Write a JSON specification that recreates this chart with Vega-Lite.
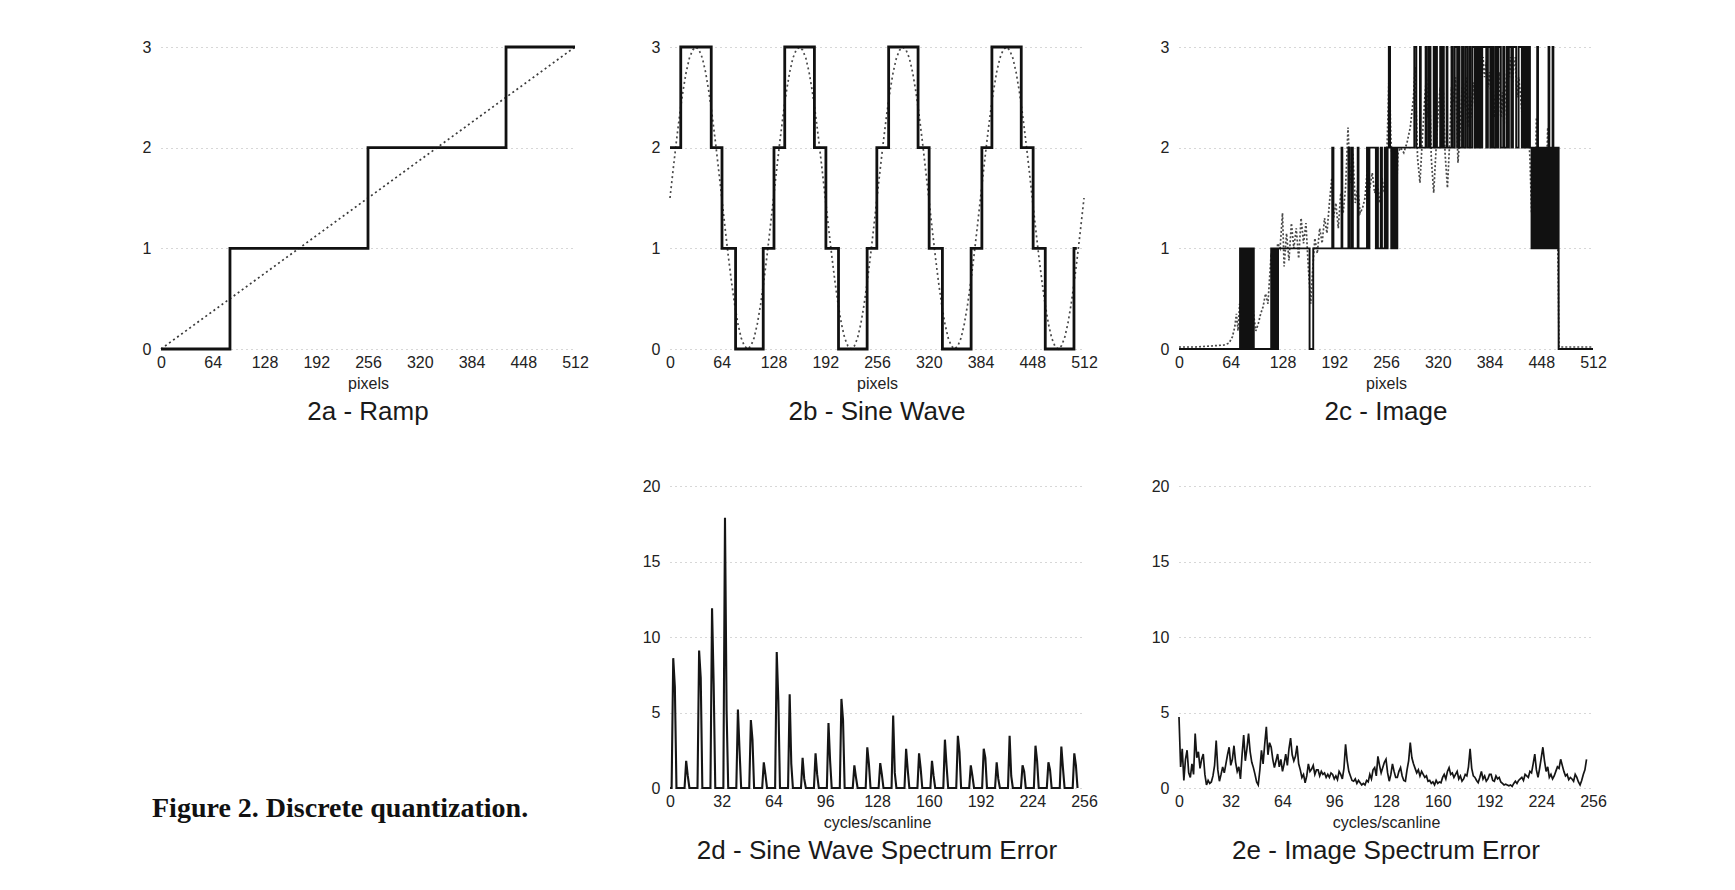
{
  "$schema": "https://vega.github.io/schema/vega-lite/v6.json",
  "background": "white",
  "padding": {"left": 142, "top": 39, "right": 5, "bottom": 5},
  "config": {
    "font": "Liberation Sans",
    "view": {"stroke": null},
    "axis": {
      "domain": false,
      "ticks": false,
      "grid": false,
      "labelFont": "Liberation Sans",
      "labelFontSize": 16,
      "labelColor": "#222222",
      "labelOverlap": false,
      "labelFlush": false,
      "titleFont": "Liberation Sans",
      "titleFontSize": 16,
      "titleFontWeight": "normal",
      "titleColor": "#222222"
    },
    "axisX": {"labelPadding": 5, "titlePadding": 5},
    "axisY": {
      "grid": true,
      "gridColor": "#8c8c8c",
      "gridDash": [1, 4],
      "gridOpacity": 0.7,
      "labelPadding": 10
    },
    "title": {
      "orient": "bottom",
      "anchor": "middle",
      "font": "Liberation Sans",
      "fontSize": 26,
      "fontWeight": "normal",
      "color": "#1a1a1a",
      "offset": 8
    }
  },
  "datasets": {
    "ramp_quantized": [
      {"x": 0, "y": 0}, {"x": 85.3, "y": 1}, {"x": 256, "y": 2}, {"x": 426.7, "y": 3}, {"x": 512, "y": 3}
    ],
    "ramp_original": [
      {"x": 0, "y": 0}, {"x": 512, "y": 3}
    ],
    "sine_quantized": [
      {"x": 0, "y": 2}, {"x": 13.3, "y": 3}, {"x": 51, "y": 2}, {"x": 64.3, "y": 1}, {"x": 81.1, "y": 0},
      {"x": 115.3, "y": 1}, {"x": 128.6, "y": 2}, {"x": 141.9, "y": 3}, {"x": 178.6, "y": 2}, {"x": 192.8, "y": 1},
      {"x": 208.4, "y": 0}, {"x": 243.8, "y": 1}, {"x": 255.8, "y": 2}, {"x": 270.4, "y": 3}, {"x": 306.8, "y": 2},
      {"x": 320.5, "y": 1}, {"x": 336.9, "y": 0}, {"x": 372.4, "y": 1}, {"x": 385.7, "y": 2}, {"x": 398.1, "y": 3},
      {"x": 434.4, "y": 2}, {"x": 449.1, "y": 1}, {"x": 464.1, "y": 0}, {"x": 499.6, "y": 1}, {"x": 503.1, "y": 1}
    ],
    "sine_original": [
      {"x": 0, "y": 1.5}, {"x": 4, "y": 1.79}, {"x": 8, "y": 2.07}, {"x": 12, "y": 2.33}, {"x": 16, "y": 2.56}, {"x": 20, "y": 2.75}, {"x": 24, "y": 2.89}, {"x": 28, "y": 2.97},
      {"x": 32, "y": 3}, {"x": 36, "y": 2.97}, {"x": 40, "y": 2.89}, {"x": 44, "y": 2.75}, {"x": 48, "y": 2.56}, {"x": 52, "y": 2.33}, {"x": 56, "y": 2.07}, {"x": 60, "y": 1.79},
      {"x": 64, "y": 1.5}, {"x": 68, "y": 1.21}, {"x": 72, "y": 0.93}, {"x": 76, "y": 0.67}, {"x": 80, "y": 0.44}, {"x": 84, "y": 0.25}, {"x": 88, "y": 0.11}, {"x": 92, "y": 0.03},
      {"x": 96, "y": 0}, {"x": 100, "y": 0.03}, {"x": 104, "y": 0.11}, {"x": 108, "y": 0.25}, {"x": 112, "y": 0.44}, {"x": 116, "y": 0.67}, {"x": 120, "y": 0.93}, {"x": 124, "y": 1.21},
      {"x": 128, "y": 1.5}, {"x": 132, "y": 1.79}, {"x": 136, "y": 2.07}, {"x": 140, "y": 2.33}, {"x": 144, "y": 2.56}, {"x": 148, "y": 2.75}, {"x": 152, "y": 2.89}, {"x": 156, "y": 2.97},
      {"x": 160, "y": 3}, {"x": 164, "y": 2.97}, {"x": 168, "y": 2.89}, {"x": 172, "y": 2.75}, {"x": 176, "y": 2.56}, {"x": 180, "y": 2.33}, {"x": 184, "y": 2.07}, {"x": 188, "y": 1.79},
      {"x": 192, "y": 1.5}, {"x": 196, "y": 1.21}, {"x": 200, "y": 0.93}, {"x": 204, "y": 0.67}, {"x": 208, "y": 0.44}, {"x": 212, "y": 0.25}, {"x": 216, "y": 0.11}, {"x": 220, "y": 0.03},
      {"x": 224, "y": 0}, {"x": 228, "y": 0.03}, {"x": 232, "y": 0.11}, {"x": 236, "y": 0.25}, {"x": 240, "y": 0.44}, {"x": 244, "y": 0.67}, {"x": 248, "y": 0.93}, {"x": 252, "y": 1.21},
      {"x": 256, "y": 1.5}, {"x": 260, "y": 1.79}, {"x": 264, "y": 2.07}, {"x": 268, "y": 2.33}, {"x": 272, "y": 2.56}, {"x": 276, "y": 2.75}, {"x": 280, "y": 2.89}, {"x": 284, "y": 2.97},
      {"x": 288, "y": 3}, {"x": 292, "y": 2.97}, {"x": 296, "y": 2.89}, {"x": 300, "y": 2.75}, {"x": 304, "y": 2.56}, {"x": 308, "y": 2.33}, {"x": 312, "y": 2.07}, {"x": 316, "y": 1.79},
      {"x": 320, "y": 1.5}, {"x": 324, "y": 1.21}, {"x": 328, "y": 0.93}, {"x": 332, "y": 0.67}, {"x": 336, "y": 0.44}, {"x": 340, "y": 0.25}, {"x": 344, "y": 0.11}, {"x": 348, "y": 0.03},
      {"x": 352, "y": 0}, {"x": 356, "y": 0.03}, {"x": 360, "y": 0.11}, {"x": 364, "y": 0.25}, {"x": 368, "y": 0.44}, {"x": 372, "y": 0.67}, {"x": 376, "y": 0.93}, {"x": 380, "y": 1.21},
      {"x": 384, "y": 1.5}, {"x": 388, "y": 1.79}, {"x": 392, "y": 2.07}, {"x": 396, "y": 2.33}, {"x": 400, "y": 2.56}, {"x": 404, "y": 2.75}, {"x": 408, "y": 2.89}, {"x": 412, "y": 2.97},
      {"x": 416, "y": 3}, {"x": 420, "y": 2.97}, {"x": 424, "y": 2.89}, {"x": 428, "y": 2.75}, {"x": 432, "y": 2.56}, {"x": 436, "y": 2.33}, {"x": 440, "y": 2.07}, {"x": 444, "y": 1.79},
      {"x": 448, "y": 1.5}, {"x": 452, "y": 1.21}, {"x": 456, "y": 0.93}, {"x": 460, "y": 0.67}, {"x": 464, "y": 0.44}, {"x": 468, "y": 0.25}, {"x": 472, "y": 0.11}, {"x": 476, "y": 0.03},
      {"x": 480, "y": 0}, {"x": 484, "y": 0.03}, {"x": 488, "y": 0.11}, {"x": 492, "y": 0.25}, {"x": 496, "y": 0.44}, {"x": 500, "y": 0.67}, {"x": 504, "y": 0.93}, {"x": 508, "y": 1.21},
      {"x": 512, "y": 1.5}
    ],
    "image_quantized": [
      {"x": 0, "y": 0},
      {"x": 75.5, "y": 1}, {"x": 76.5, "y": 0}, {"x": 78, "y": 1}, {"x": 79, "y": 0}, {"x": 80.5, "y": 1}, {"x": 81.5, "y": 0}, {"x": 83, "y": 1}, {"x": 84, "y": 0},
      {"x": 86, "y": 1}, {"x": 87, "y": 0}, {"x": 88.5, "y": 1}, {"x": 89.5, "y": 0}, {"x": 91.5, "y": 1}, {"x": 92.5, "y": 0},
      {"x": 114, "y": 1}, {"x": 115, "y": 0}, {"x": 117, "y": 1}, {"x": 118.5, "y": 0}, {"x": 120, "y": 1}, {"x": 121, "y": 0}, {"x": 122.5, "y": 1},
      {"x": 161.5, "y": 0}, {"x": 166, "y": 1},
      {"x": 189.5, "y": 2}, {"x": 191, "y": 1},
      {"x": 201, "y": 2}, {"x": 202, "y": 1},
      {"x": 209.5, "y": 2}, {"x": 211, "y": 1}, {"x": 213.5, "y": 2}, {"x": 215, "y": 1},
      {"x": 221, "y": 2}, {"x": 222, "y": 1},
      {"x": 232.5, "y": 2}, {"x": 234, "y": 1}, {"x": 235.5, "y": 2}, {"x": 243.5, "y": 1}, {"x": 245, "y": 2}, {"x": 246, "y": 1}, {"x": 249.5, "y": 2}, {"x": 251, "y": 1},
      {"x": 254.5, "y": 2}, {"x": 256, "y": 1}, {"x": 258, "y": 2}, {"x": 259.5, "y": 3}, {"x": 261, "y": 2}, {"x": 262.5, "y": 1}, {"x": 264, "y": 2}, {"x": 266, "y": 1},
      {"x": 268, "y": 2}, {"x": 268.8, "y": 1}, {"x": 270, "y": 2},
      {"x": 291, "y": 3}, {"x": 293.5, "y": 2}, {"x": 298, "y": 3}, {"x": 299, "y": 2}, {"x": 305, "y": 3}, {"x": 306.5, "y": 2}, {"x": 309, "y": 3}, {"x": 311, "y": 2},
      {"x": 315, "y": 3}, {"x": 316, "y": 2}, {"x": 318, "y": 3}, {"x": 319, "y": 2}, {"x": 323, "y": 3}, {"x": 324.5, "y": 2}, {"x": 326, "y": 3}, {"x": 327.5, "y": 2},
      {"x": 331, "y": 3}, {"x": 332, "y": 2}, {"x": 337, "y": 3}, {"x": 338.5, "y": 2}, {"x": 341, "y": 3}, {"x": 344, "y": 2}, {"x": 346, "y": 3}, {"x": 347, "y": 2},
      {"x": 350, "y": 3}, {"x": 351.5, "y": 2}, {"x": 354, "y": 3}, {"x": 356.5, "y": 2}, {"x": 359, "y": 3}, {"x": 360.5, "y": 2}, {"x": 363, "y": 3}, {"x": 366, "y": 2},
      {"x": 368, "y": 3}, {"x": 369, "y": 2}, {"x": 371, "y": 3}, {"x": 373, "y": 2}, {"x": 375, "y": 3}, {"x": 380, "y": 2}, {"x": 382, "y": 3}, {"x": 385, "y": 2},
      {"x": 387, "y": 3}, {"x": 388.5, "y": 2}, {"x": 391, "y": 3}, {"x": 393, "y": 2}, {"x": 395, "y": 3}, {"x": 398, "y": 2}, {"x": 401, "y": 3}, {"x": 402, "y": 2},
      {"x": 405, "y": 3}, {"x": 407, "y": 2}, {"x": 408, "y": 3}, {"x": 411, "y": 2}, {"x": 413, "y": 3}, {"x": 417, "y": 2}, {"x": 420, "y": 3}, {"x": 424, "y": 2},
      {"x": 426, "y": 3}, {"x": 428, "y": 2}, {"x": 430, "y": 3}, {"x": 431.5, "y": 2}, {"x": 433, "y": 3}, {"x": 434, "y": 2},
      {"x": 436, "y": 1}, {"x": 437, "y": 2}, {"x": 438, "y": 1}, {"x": 439, "y": 2}, {"x": 440, "y": 1}, {"x": 441, "y": 2}, {"x": 442, "y": 1}, {"x": 443, "y": 3},
      {"x": 444, "y": 1}, {"x": 445, "y": 2}, {"x": 446, "y": 1}, {"x": 447, "y": 2}, {"x": 448, "y": 1}, {"x": 449, "y": 2}, {"x": 450, "y": 1}, {"x": 451, "y": 2},
      {"x": 452, "y": 1}, {"x": 453, "y": 2}, {"x": 454, "y": 1}, {"x": 455, "y": 2}, {"x": 456, "y": 1}, {"x": 457, "y": 3}, {"x": 458, "y": 1}, {"x": 459, "y": 2},
      {"x": 460, "y": 1}, {"x": 461, "y": 2}, {"x": 462, "y": 3}, {"x": 463, "y": 1}, {"x": 464, "y": 2}, {"x": 465, "y": 1}, {"x": 466, "y": 2}, {"x": 467, "y": 1},
      {"x": 468, "y": 2}, {"x": 469.5, "y": 0}, {"x": 512, "y": 0}
    ],
    "image_original": [
      {"x": 0, "y": 0.02}, {"x": 20, "y": 0.02}, {"x": 40, "y": 0.03}, {"x": 56, "y": 0.04}, {"x": 62, "y": 0.06}, {"x": 66, "y": 0.12}, {"x": 69, "y": 0.22}, {"x": 71, "y": 0.35},
      {"x": 73, "y": 0.18}, {"x": 75, "y": 0.45}, {"x": 77, "y": 0.3}, {"x": 79, "y": 0.62}, {"x": 81, "y": 0.28}, {"x": 83, "y": 0.5}, {"x": 85, "y": 0.32}, {"x": 87, "y": 0.58},
      {"x": 89, "y": 0.22}, {"x": 91, "y": 0.45}, {"x": 93, "y": 0.3}, {"x": 95, "y": 0.18}, {"x": 98, "y": 0.25}, {"x": 101, "y": 0.35}, {"x": 104, "y": 0.42}, {"x": 107, "y": 0.55},
      {"x": 110, "y": 0.45}, {"x": 112, "y": 0.7}, {"x": 114, "y": 0.95}, {"x": 116, "y": 0.62}, {"x": 118, "y": 0.85}, {"x": 120, "y": 0.72}, {"x": 122, "y": 1.05}, {"x": 125, "y": 1.0},
      {"x": 128, "y": 1.35}, {"x": 130, "y": 0.82}, {"x": 133, "y": 1.15}, {"x": 136, "y": 0.88}, {"x": 139, "y": 1.25}, {"x": 142, "y": 1.0}, {"x": 145, "y": 1.2}, {"x": 148, "y": 0.9},
      {"x": 151, "y": 1.3}, {"x": 154, "y": 1.05}, {"x": 157, "y": 1.25}, {"x": 160, "y": 0.8}, {"x": 163, "y": 0.45}, {"x": 165, "y": 0.75}, {"x": 168, "y": 1.1}, {"x": 171, "y": 0.95},
      {"x": 174, "y": 1.2}, {"x": 177, "y": 1.05}, {"x": 180, "y": 1.3}, {"x": 183, "y": 1.15}, {"x": 186, "y": 1.45}, {"x": 189, "y": 1.7}, {"x": 191, "y": 1.3}, {"x": 194, "y": 1.45},
      {"x": 197, "y": 1.2}, {"x": 200, "y": 1.55}, {"x": 203, "y": 1.35}, {"x": 206, "y": 1.6}, {"x": 209, "y": 2.2}, {"x": 212, "y": 1.65}, {"x": 215, "y": 1.95}, {"x": 218, "y": 1.45},
      {"x": 221, "y": 1.6}, {"x": 224, "y": 1.35}, {"x": 227, "y": 1.4}, {"x": 230, "y": 1.5}, {"x": 233, "y": 1.8}, {"x": 236, "y": 1.6}, {"x": 239, "y": 1.75}, {"x": 242, "y": 1.55},
      {"x": 245, "y": 1.65}, {"x": 248, "y": 1.45}, {"x": 251, "y": 1.7}, {"x": 254, "y": 1.55}, {"x": 257, "y": 1.9}, {"x": 260, "y": 2.8}, {"x": 262, "y": 2.1}, {"x": 265, "y": 1.7},
      {"x": 268, "y": 1.4}, {"x": 271, "y": 1.95}, {"x": 274, "y": 2.0}, {"x": 278, "y": 1.95}, {"x": 282, "y": 2.05}, {"x": 286, "y": 2.2}, {"x": 290, "y": 2.5}, {"x": 292, "y": 2.8},
      {"x": 295, "y": 1.9}, {"x": 298, "y": 1.65}, {"x": 301, "y": 2.1}, {"x": 304, "y": 2.5}, {"x": 306, "y": 2.7}, {"x": 308, "y": 2.3}, {"x": 310, "y": 2.6}, {"x": 312, "y": 1.9},
      {"x": 315, "y": 1.55}, {"x": 318, "y": 2.0}, {"x": 321, "y": 2.4}, {"x": 323, "y": 2.6}, {"x": 325, "y": 2.3}, {"x": 327, "y": 2.55}, {"x": 329, "y": 1.95}, {"x": 332, "y": 1.6},
      {"x": 335, "y": 2.1}, {"x": 337, "y": 2.6}, {"x": 339, "y": 2.45}, {"x": 342, "y": 2.7}, {"x": 345, "y": 1.85}, {"x": 348, "y": 2.2}, {"x": 350, "y": 2.6}, {"x": 352, "y": 2.4},
      {"x": 355, "y": 2.7}, {"x": 357, "y": 2.2}, {"x": 360, "y": 2.6}, {"x": 362, "y": 2.3}, {"x": 364, "y": 2.65}, {"x": 366, "y": 2.4}, {"x": 368, "y": 2.8}, {"x": 370, "y": 2.4},
      {"x": 372, "y": 2.7}, {"x": 374, "y": 2.5}, {"x": 376, "y": 2.9}, {"x": 378, "y": 2.7}, {"x": 380, "y": 2.85}, {"x": 382, "y": 2.6}, {"x": 384, "y": 2.75}, {"x": 386, "y": 2.5},
      {"x": 388, "y": 2.7}, {"x": 390, "y": 2.3}, {"x": 392, "y": 2.6}, {"x": 394, "y": 2.45}, {"x": 396, "y": 2.75}, {"x": 398, "y": 2.3}, {"x": 400, "y": 2.55}, {"x": 402, "y": 2.2},
      {"x": 404, "y": 2.6}, {"x": 406, "y": 2.85}, {"x": 408, "y": 2.7}, {"x": 410, "y": 2.9}, {"x": 412, "y": 2.6}, {"x": 414, "y": 2.8}, {"x": 416, "y": 2.9}, {"x": 418, "y": 2.5},
      {"x": 420, "y": 2.7}, {"x": 422, "y": 2.55}, {"x": 424, "y": 2.35}, {"x": 426, "y": 2.6}, {"x": 428, "y": 2.4}, {"x": 430, "y": 2.55}, {"x": 432, "y": 2.2}, {"x": 434, "y": 1.9},
      {"x": 436, "y": 1.35}, {"x": 438, "y": 1.6}, {"x": 440, "y": 1.3}, {"x": 442, "y": 2.3}, {"x": 444, "y": 1.4}, {"x": 446, "y": 1.6}, {"x": 448, "y": 1.3}, {"x": 450, "y": 1.7},
      {"x": 452, "y": 1.4}, {"x": 454, "y": 1.6}, {"x": 456, "y": 2.2}, {"x": 458, "y": 1.5}, {"x": 460, "y": 1.7}, {"x": 462, "y": 1.3}, {"x": 464, "y": 1.55}, {"x": 466, "y": 1.2},
      {"x": 468, "y": 1.3}, {"x": 470, "y": 0.02}, {"x": 512, "y": 0.02}
    ],
    "sine_spectrum_error": [
      {"f": 0, "e": 0}, {"f": 1, "e": 0}, {"f": 2, "e": 8.6}, {"f": 3, "e": 6.7}, {"f": 4, "e": 0},
      {"f": 9, "e": 0}, {"f": 10, "e": 1.8}, {"f": 11, "e": 0.8}, {"f": 12, "e": 0},
      {"f": 17, "e": 0}, {"f": 18, "e": 9.1}, {"f": 19, "e": 7.3}, {"f": 20, "e": 0},
      {"f": 25, "e": 0}, {"f": 26, "e": 11.9}, {"f": 27, "e": 6.9}, {"f": 28, "e": 0},
      {"f": 33, "e": 0}, {"f": 34, "e": 17.9}, {"f": 35, "e": 5.1}, {"f": 36, "e": 0},
      {"f": 41, "e": 0}, {"f": 42, "e": 5.2}, {"f": 43, "e": 2.5}, {"f": 44, "e": 0},
      {"f": 49, "e": 0}, {"f": 50, "e": 4.5}, {"f": 51, "e": 3.2}, {"f": 52, "e": 0},
      {"f": 57, "e": 0}, {"f": 58, "e": 1.7}, {"f": 59, "e": 0.9}, {"f": 60, "e": 0},
      {"f": 65, "e": 0}, {"f": 66, "e": 9.0}, {"f": 67, "e": 5.8}, {"f": 68, "e": 0},
      {"f": 73, "e": 0}, {"f": 74, "e": 6.2}, {"f": 75, "e": 1.6}, {"f": 76, "e": 0},
      {"f": 81, "e": 0}, {"f": 82, "e": 2.0}, {"f": 83, "e": 0.6}, {"f": 84, "e": 0},
      {"f": 89, "e": 0}, {"f": 90, "e": 2.3}, {"f": 91, "e": 0.9}, {"f": 92, "e": 0},
      {"f": 97, "e": 0}, {"f": 98, "e": 4.3}, {"f": 99, "e": 1.8}, {"f": 100, "e": 0},
      {"f": 105, "e": 0}, {"f": 106, "e": 5.9}, {"f": 107, "e": 4.5}, {"f": 108, "e": 0},
      {"f": 113, "e": 0}, {"f": 114, "e": 1.5}, {"f": 115, "e": 0.7}, {"f": 116, "e": 0},
      {"f": 121, "e": 0}, {"f": 122, "e": 2.7}, {"f": 123, "e": 1.6}, {"f": 124, "e": 0},
      {"f": 129, "e": 0}, {"f": 130, "e": 1.65}, {"f": 131, "e": 0.9}, {"f": 132, "e": 0},
      {"f": 137, "e": 0}, {"f": 138, "e": 4.8}, {"f": 139, "e": 1.0}, {"f": 140, "e": 0},
      {"f": 145, "e": 0}, {"f": 146, "e": 2.6}, {"f": 147, "e": 1.2}, {"f": 148, "e": 0},
      {"f": 153, "e": 0}, {"f": 154, "e": 2.3}, {"f": 155, "e": 1.3}, {"f": 156, "e": 0},
      {"f": 161, "e": 0}, {"f": 162, "e": 1.8}, {"f": 163, "e": 0.8}, {"f": 164, "e": 0},
      {"f": 169, "e": 0}, {"f": 170, "e": 3.2}, {"f": 171, "e": 1.5}, {"f": 172, "e": 0},
      {"f": 177, "e": 0}, {"f": 178, "e": 3.45}, {"f": 179, "e": 2.4}, {"f": 180, "e": 0},
      {"f": 185, "e": 0}, {"f": 186, "e": 1.5}, {"f": 187, "e": 0.8}, {"f": 188, "e": 0},
      {"f": 193, "e": 0}, {"f": 194, "e": 2.6}, {"f": 195, "e": 2.0}, {"f": 196, "e": 0},
      {"f": 201, "e": 0}, {"f": 202, "e": 1.7}, {"f": 203, "e": 0.6}, {"f": 204, "e": 0},
      {"f": 209, "e": 0}, {"f": 210, "e": 3.45}, {"f": 211, "e": 0.8}, {"f": 212, "e": 0},
      {"f": 217, "e": 0}, {"f": 218, "e": 1.5}, {"f": 219, "e": 1.1}, {"f": 220, "e": 0},
      {"f": 225, "e": 0}, {"f": 226, "e": 2.8}, {"f": 227, "e": 1.8}, {"f": 228, "e": 0},
      {"f": 233, "e": 0}, {"f": 234, "e": 1.7}, {"f": 235, "e": 1.2}, {"f": 236, "e": 0},
      {"f": 241, "e": 0}, {"f": 242, "e": 2.75}, {"f": 243, "e": 1.3}, {"f": 244, "e": 0},
      {"f": 249, "e": 0}, {"f": 250, "e": 2.3}, {"f": 251, "e": 1.5}, {"f": 252, "e": 0}
    ],
    "image_spectrum_error": [
      {"f": 0, "e": 4.7}, {"f": 1, "e": 1.4}, {"f": 2, "e": 2.6}, {"f": 3, "e": 0.5}, {"f": 4, "e": 1.9}, {"f": 5, "e": 2.5}, {"f": 6, "e": 1.0}, {"f": 7, "e": 0.7},
      {"f": 8, "e": 1.6}, {"f": 9, "e": 0.9}, {"f": 10, "e": 3.6}, {"f": 11, "e": 2.0}, {"f": 12, "e": 2.4}, {"f": 13, "e": 1.3}, {"f": 14, "e": 1.9}, {"f": 15, "e": 2.25},
      {"f": 16, "e": 0.9}, {"f": 17, "e": 0.2}, {"f": 18, "e": 0.5}, {"f": 19, "e": 0.3}, {"f": 20, "e": 0.4}, {"f": 21, "e": 0.8}, {"f": 22, "e": 1.5}, {"f": 23, "e": 3.15},
      {"f": 24, "e": 1.2}, {"f": 25, "e": 0.45}, {"f": 26, "e": 0.9}, {"f": 27, "e": 1.4}, {"f": 28, "e": 1.0}, {"f": 29, "e": 1.6}, {"f": 30, "e": 2.2}, {"f": 31, "e": 2.7},
      {"f": 32, "e": 1.5}, {"f": 33, "e": 1.9}, {"f": 34, "e": 2.8}, {"f": 35, "e": 1.7}, {"f": 36, "e": 1.1}, {"f": 37, "e": 1.4}, {"f": 38, "e": 0.6}, {"f": 39, "e": 2.2},
      {"f": 40, "e": 3.5}, {"f": 41, "e": 1.8}, {"f": 42, "e": 2.6}, {"f": 43, "e": 3.6}, {"f": 44, "e": 2.4}, {"f": 45, "e": 1.7}, {"f": 46, "e": 1.35}, {"f": 47, "e": 0.9},
      {"f": 48, "e": 0.4}, {"f": 49, "e": 0.2}, {"f": 50, "e": 1.2}, {"f": 51, "e": 2.5}, {"f": 52, "e": 1.6}, {"f": 53, "e": 2.9}, {"f": 54, "e": 4.05}, {"f": 55, "e": 2.2},
      {"f": 56, "e": 3.0}, {"f": 57, "e": 2.7}, {"f": 58, "e": 1.9}, {"f": 59, "e": 1.35}, {"f": 60, "e": 1.8}, {"f": 61, "e": 2.25}, {"f": 62, "e": 1.4}, {"f": 63, "e": 1.9},
      {"f": 64, "e": 1.1}, {"f": 65, "e": 1.6}, {"f": 66, "e": 2.25}, {"f": 67, "e": 1.5}, {"f": 68, "e": 2.6}, {"f": 69, "e": 3.3}, {"f": 70, "e": 2.2}, {"f": 71, "e": 1.8},
      {"f": 72, "e": 2.1}, {"f": 73, "e": 2.8}, {"f": 74, "e": 1.6}, {"f": 75, "e": 1.2}, {"f": 76, "e": 0.7}, {"f": 77, "e": 0.9}, {"f": 78, "e": 0.35}, {"f": 79, "e": 0.8},
      {"f": 80, "e": 1.6}, {"f": 81, "e": 1.1}, {"f": 82, "e": 1.25}, {"f": 83, "e": 1.5}, {"f": 84, "e": 0.9}, {"f": 85, "e": 1.2}, {"f": 86, "e": 1.2}, {"f": 87, "e": 0.8},
      {"f": 88, "e": 1.1}, {"f": 89, "e": 0.9}, {"f": 90, "e": 1.0}, {"f": 91, "e": 0.7}, {"f": 92, "e": 0.9}, {"f": 93, "e": 0.7}, {"f": 94, "e": 1.0}, {"f": 95, "e": 0.9},
      {"f": 96, "e": 0.6}, {"f": 97, "e": 0.8}, {"f": 98, "e": 0.55}, {"f": 99, "e": 1.1}, {"f": 100, "e": 0.9}, {"f": 101, "e": 0.6}, {"f": 102, "e": 1.3}, {"f": 103, "e": 2.9},
      {"f": 104, "e": 1.8}, {"f": 105, "e": 1.1}, {"f": 106, "e": 0.8}, {"f": 107, "e": 0.5}, {"f": 108, "e": 0.45}, {"f": 109, "e": 0.6}, {"f": 110, "e": 0.3}, {"f": 111, "e": 0.5},
      {"f": 112, "e": 0.35}, {"f": 113, "e": 0.2}, {"f": 114, "e": 0.3}, {"f": 115, "e": 0.2}, {"f": 116, "e": 0.5}, {"f": 117, "e": 0.4}, {"f": 118, "e": 0.9}, {"f": 119, "e": 0.6},
      {"f": 120, "e": 1.2}, {"f": 121, "e": 1.35}, {"f": 122, "e": 0.8}, {"f": 123, "e": 2.1}, {"f": 124, "e": 1.5}, {"f": 125, "e": 1.0}, {"f": 126, "e": 1.35}, {"f": 127, "e": 1.7},
      {"f": 128, "e": 1.9}, {"f": 129, "e": 1.0}, {"f": 130, "e": 0.45}, {"f": 131, "e": 0.9}, {"f": 132, "e": 1.6}, {"f": 133, "e": 1.1}, {"f": 134, "e": 0.7}, {"f": 135, "e": 0.7},
      {"f": 136, "e": 1.1}, {"f": 137, "e": 1.35}, {"f": 138, "e": 0.8}, {"f": 139, "e": 0.5}, {"f": 140, "e": 0.45}, {"f": 141, "e": 1.2}, {"f": 142, "e": 1.8}, {"f": 143, "e": 3.0},
      {"f": 144, "e": 2.0}, {"f": 145, "e": 1.6}, {"f": 146, "e": 1.3}, {"f": 147, "e": 1.0}, {"f": 148, "e": 1.2}, {"f": 149, "e": 0.8}, {"f": 150, "e": 1.1}, {"f": 151, "e": 0.9},
      {"f": 152, "e": 0.7}, {"f": 153, "e": 0.8}, {"f": 154, "e": 0.45}, {"f": 155, "e": 0.5}, {"f": 156, "e": 0.3}, {"f": 157, "e": 0.4}, {"f": 158, "e": 0.2}, {"f": 159, "e": 0.5},
      {"f": 160, "e": 0.3}, {"f": 161, "e": 0.4}, {"f": 162, "e": 0.35}, {"f": 163, "e": 0.7}, {"f": 164, "e": 0.9}, {"f": 165, "e": 0.6}, {"f": 166, "e": 1.1}, {"f": 167, "e": 1.35},
      {"f": 168, "e": 0.9}, {"f": 169, "e": 1.0}, {"f": 170, "e": 0.7}, {"f": 171, "e": 0.9}, {"f": 172, "e": 1.1}, {"f": 173, "e": 0.6}, {"f": 174, "e": 0.8}, {"f": 175, "e": 0.45},
      {"f": 176, "e": 0.6}, {"f": 177, "e": 0.9}, {"f": 178, "e": 0.8}, {"f": 179, "e": 1.4}, {"f": 180, "e": 2.6}, {"f": 181, "e": 1.3}, {"f": 182, "e": 0.8}, {"f": 183, "e": 0.7},
      {"f": 184, "e": 0.5}, {"f": 185, "e": 0.35}, {"f": 186, "e": 0.7}, {"f": 187, "e": 1.1}, {"f": 188, "e": 0.6}, {"f": 189, "e": 0.8}, {"f": 190, "e": 0.45}, {"f": 191, "e": 0.6},
      {"f": 192, "e": 0.9}, {"f": 193, "e": 0.9}, {"f": 194, "e": 0.5}, {"f": 195, "e": 0.45}, {"f": 196, "e": 0.8}, {"f": 197, "e": 0.6}, {"f": 198, "e": 0.7}, {"f": 199, "e": 0.4},
      {"f": 200, "e": 0.3}, {"f": 201, "e": 0.2}, {"f": 202, "e": 0.25}, {"f": 203, "e": 0.2}, {"f": 204, "e": 0.15}, {"f": 205, "e": 0.2}, {"f": 206, "e": 0.1}, {"f": 207, "e": 0.3},
      {"f": 208, "e": 0.45}, {"f": 209, "e": 0.3}, {"f": 210, "e": 0.5}, {"f": 211, "e": 0.6}, {"f": 212, "e": 0.7}, {"f": 213, "e": 0.5}, {"f": 214, "e": 0.9}, {"f": 215, "e": 0.8},
      {"f": 216, "e": 0.7}, {"f": 217, "e": 1.1}, {"f": 218, "e": 1.0}, {"f": 219, "e": 1.6}, {"f": 220, "e": 2.25}, {"f": 221, "e": 1.2}, {"f": 222, "e": 0.7}, {"f": 223, "e": 1.3},
      {"f": 224, "e": 2.0}, {"f": 225, "e": 2.7}, {"f": 226, "e": 1.8}, {"f": 227, "e": 1.1}, {"f": 228, "e": 1.4}, {"f": 229, "e": 0.7}, {"f": 230, "e": 0.9}, {"f": 231, "e": 0.6},
      {"f": 232, "e": 0.8}, {"f": 233, "e": 1.1}, {"f": 234, "e": 1.4}, {"f": 235, "e": 1.3}, {"f": 236, "e": 1.9}, {"f": 237, "e": 1.5}, {"f": 238, "e": 1.1}, {"f": 239, "e": 0.8},
      {"f": 240, "e": 0.9}, {"f": 241, "e": 0.55}, {"f": 242, "e": 0.7}, {"f": 243, "e": 0.6}, {"f": 244, "e": 0.45}, {"f": 245, "e": 0.9}, {"f": 246, "e": 0.7}, {"f": 247, "e": 0.4},
      {"f": 248, "e": 0.2}, {"f": 249, "e": 0.5}, {"f": 250, "e": 0.9}, {"f": 251, "e": 1.2}, {"f": 252, "e": 1.9}
    ]
  },
  "concat": [
    {
      "width": 414,
      "height": 302,
      "title": "2a - Ramp",
      "encoding": {
        "x": {"field": "x", "type": "quantitative", "scale": {"domain": [0, 512], "nice": false},
              "axis": {"values": [0, 64, 128, 192, 256, 320, 384, 448, 512], "title": "pixels"}},
        "y": {"field": "y", "type": "quantitative", "scale": {"domain": [0, 3], "nice": false},
              "axis": {"values": [0, 1, 2, 3], "title": null}}
      },
      "layer": [
        {"data": {"name": "ramp_original"},
         "mark": {"type": "line", "color": "#3a3a3a", "strokeWidth": 1.7, "strokeDash": [2, 3]}},
        {"data": {"name": "ramp_quantized"},
         "mark": {"type": "line", "interpolate": "step-after", "color": "#111111", "strokeWidth": 2.8}}
      ]
    },
    {
      "width": 414,
      "height": 302,
      "title": "2b - Sine Wave",
      "encoding": {
        "x": {"field": "x", "type": "quantitative", "scale": {"domain": [0, 512], "nice": false},
              "axis": {"values": [0, 64, 128, 192, 256, 320, 384, 448, 512], "title": "pixels"}},
        "y": {"field": "y", "type": "quantitative", "scale": {"domain": [0, 3], "nice": false},
              "axis": {"values": [0, 1, 2, 3], "title": null}}
      },
      "layer": [
        {"data": {"name": "sine_original"},
         "mark": {"type": "line", "color": "#4a4a4a", "strokeWidth": 1.7, "strokeDash": [2, 3]}},
        {"data": {"name": "sine_quantized"},
         "mark": {"type": "line", "interpolate": "step-after", "color": "#111111", "strokeWidth": 2.8}}
      ]
    },
    {
      "width": 414,
      "height": 302,
      "title": "2c - Image",
      "encoding": {
        "x": {"field": "x", "type": "quantitative", "scale": {"domain": [0, 512], "nice": false},
              "axis": {"values": [0, 64, 128, 192, 256, 320, 384, 448, 512], "title": "pixels"}},
        "y": {"field": "y", "type": "quantitative", "scale": {"domain": [0, 3], "nice": false},
              "axis": {"values": [0, 1, 2, 3], "title": null}}
      },
      "layer": [
        {"data": {"name": "image_original"},
         "mark": {"type": "line", "color": "#4a4a4a", "strokeWidth": 1.7, "strokeDash": [2, 2]}},
        {"data": {"name": "image_quantized"},
         "mark": {"type": "line", "interpolate": "step-after", "color": "#111111", "strokeWidth": 1.9}}
      ]
    },
    {
      "width": 414,
      "height": 302,
      "data": {"values": []},
      "mark": "point",
      "title": {
        "text": "Figure 2. Discrete quantization.",
        "font": "Liberation Serif",
        "fontWeight": "bold",
        "fontSize": 28,
        "color": "#111111",
        "anchor": "start",
        "dx": -9,
        "offset": 7
      }
    },
    {
      "width": 414,
      "height": 302,
      "title": "2d - Sine Wave Spectrum Error",
      "data": {"name": "sine_spectrum_error"},
      "mark": {"type": "line", "color": "#151515", "strokeWidth": 2.1},
      "encoding": {
        "x": {"field": "f", "type": "quantitative", "scale": {"domain": [0, 256], "nice": false},
              "axis": {"values": [0, 32, 64, 96, 128, 160, 192, 224, 256], "title": "cycles/scanline"}},
        "y": {"field": "e", "type": "quantitative", "scale": {"domain": [0, 20], "nice": false},
              "axis": {"values": [0, 5, 10, 15, 20], "title": null}}
      }
    },
    {
      "width": 414,
      "height": 302,
      "title": "2e - Image Spectrum Error",
      "data": {"name": "image_spectrum_error"},
      "mark": {"type": "line", "color": "#151515", "strokeWidth": 1.7},
      "encoding": {
        "x": {"field": "f", "type": "quantitative", "scale": {"domain": [0, 256], "nice": false},
              "axis": {"values": [0, 32, 64, 96, 128, 160, 192, 224, 256], "title": "cycles/scanline"}},
        "y": {"field": "e", "type": "quantitative", "scale": {"domain": [0, 20], "nice": false},
              "axis": {"values": [0, 5, 10, 15, 20], "title": null}}
      }
    }
  ],
  "columns": 3,
  "bounds": "flush",
  "spacing": {"row": 137, "column": 95}
}
